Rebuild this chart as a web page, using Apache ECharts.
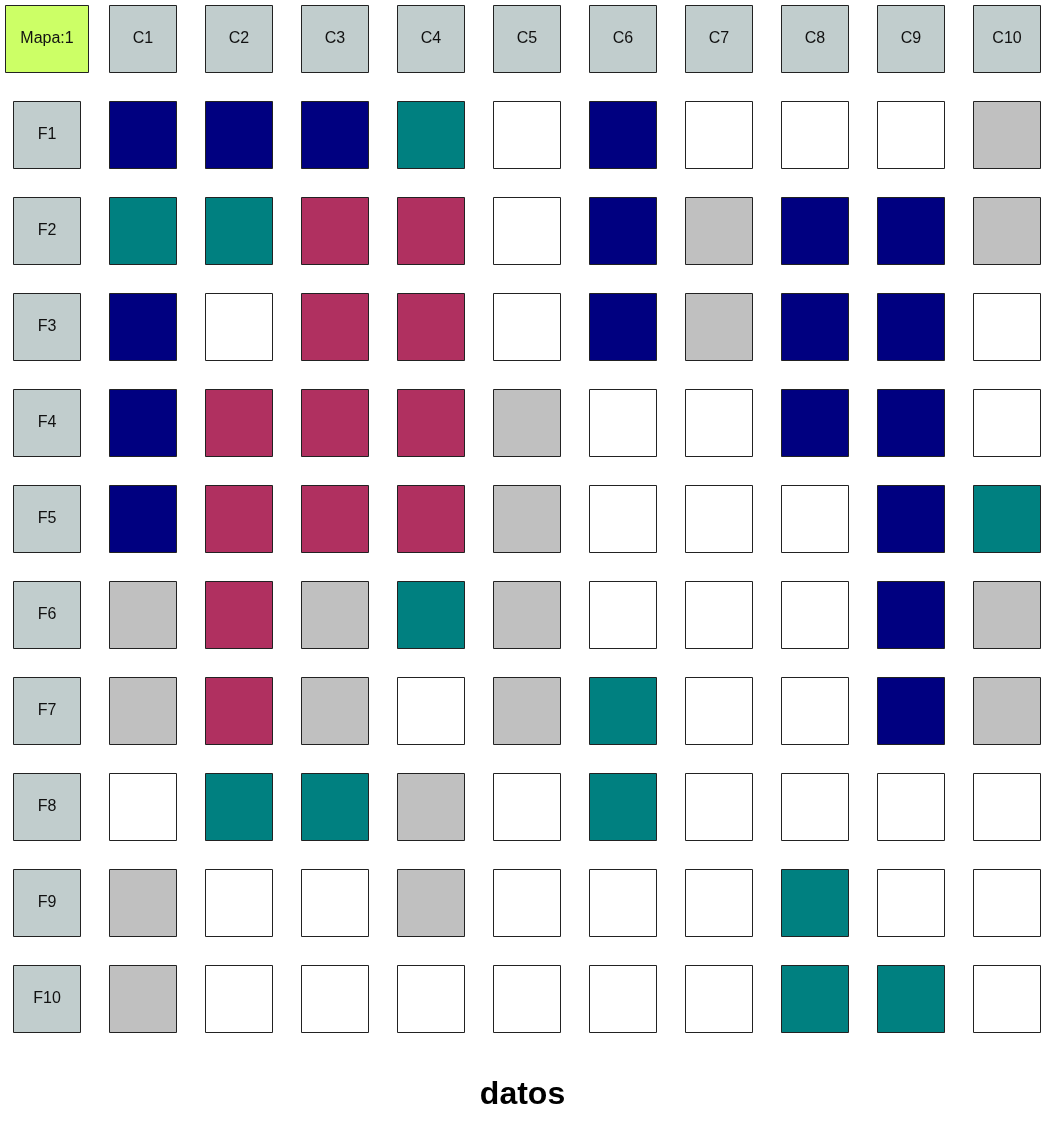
<!DOCTYPE html>
<html>
<head>
<meta charset="utf-8">
<script src="https://cdn.jsdelivr.net/npm/echarts@6/dist/echarts.min.js"></script>
<style>html,body{margin:0;padding:0;background:#fff;}#c{width:1045px;height:1125px;}</style>
</head>
<body>
<div id="c"></div>
<script>
var columns = ['C1','C2','C3','C4','C5','C6','C7','C8','C9','C10'];
var rows = ['F1','F2','F3','F4','F5','F6','F7','F8','F9','F10'];
var corner = 'Mapa:1';
// 0 = white, 1 = gray, 2 = teal, 3 = navy, 4 = crimson
var F1  = [3,3,3,2,0,3,0,0,0,1];
var F2  = [2,2,4,4,0,3,1,3,3,1];
var F3  = [3,0,4,4,0,3,1,3,3,0];
var F4  = [3,4,4,4,1,0,0,3,3,0];
var F5  = [3,4,4,4,1,0,0,0,3,2];
var F6  = [1,4,1,2,1,0,0,0,3,1];
var F7  = [1,4,1,0,1,2,0,0,3,1];
var F8  = [0,2,2,1,0,2,0,0,0,0];
var F9  = [1,0,0,1,0,0,0,2,0,0];
var F10 = [1,0,0,0,0,0,0,2,2,0];
var matrix = [F1,F2,F3,F4,F5,F6,F7,F8,F9,F10];
var palette = ['#FFFFFF','#C0C0C0','#008080','#000080','#B03060'];

var xCats = [''].concat(columns);
var yCats = [''].concat(rows);
var data = [];
data.push({value:[0,0,-1], name:corner, kind:'corner'});
columns.forEach(function(c,i){ data.push({value:[i+1,0,-1], name:c, kind:'head'}); });
rows.forEach(function(r,j){
  data.push({value:[0,j+1,-1], name:r, kind:'head'});
  matrix[j].forEach(function(v,i){ data.push({value:[i+1,j+1,v], name:'', kind:'cell'}); });
});

var chart = echarts.init(document.getElementById('c'));
chart.setOption({
  animation:false,
  title:{text:'datos', left:'center', top:1074, textStyle:{fontFamily:'Liberation Sans', fontSize:32, fontWeight:'bold', color:'#000'}},
  grid:{left:-2, top:-10, width:1056, height:1056, containLabel:false, outerBoundsMode:'none'},
  xAxis:{type:'category', data:xCats, show:false},
  yAxis:{type:'category', data:yCats, inverse:true, show:false},
  series:[{
    type:'custom',
    data:data,
    renderItem:function(params, api){
      var d = data[params.dataIndex];
      var p = api.coord([api.value(0), api.value(1)]);
      var w = d.kind==='corner' ? 83 : 67, h = 67;
      var fill;
      if (d.kind==='corner') fill = '#CCFF66';
      else if (d.kind==='head') fill = '#C1CDCD';
      else fill = palette[api.value(2)];
      var x0 = Math.round(p[0]-w/2), y0 = Math.round(p[1]-h/2);
      var children = [{type:'rect', shape:{x:x0+0.5, y:y0+0.5, width:w, height:h},
        style:{fill:fill, stroke:'#222', lineWidth:1}}];
      if (d.name) children.push({type:'text', style:{text:d.name, x:x0+0.5+w/2, y:y0+0.5+h/2,
        align:'center', verticalAlign:'middle', fontFamily:'Liberation Sans', fontSize:16, fill:'#111'}});
      return {type:'group', children:children};
    }
  }]
});
</script>
</body>
</html>
